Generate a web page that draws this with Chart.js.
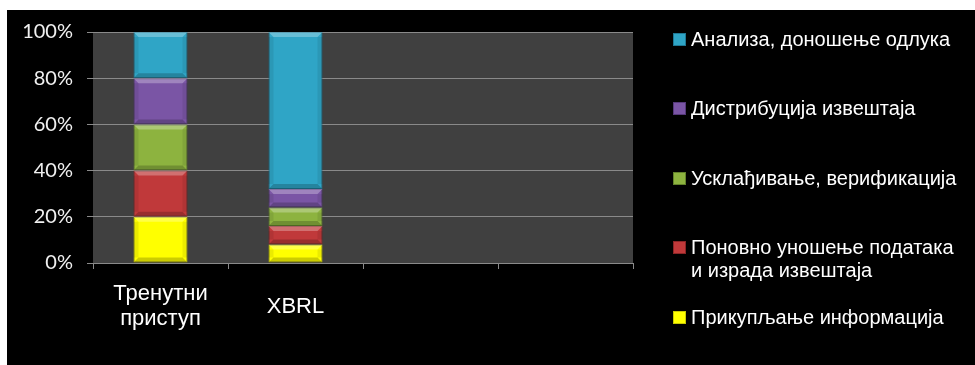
<!DOCTYPE html>
<html>
<head>
<meta charset="utf-8">
<script src="https://cdn.jsdelivr.net/npm/chart.js@4"></script>
<style>
  body { margin: 0; background: #fff; }
  #frame { position: absolute; left: 7px; top: 10px; width: 968px; height: 355px; background: #000; }
  #chartBox { position: absolute; left: 0; top: 0; width: 968px; height: 355px; }
  #legend { position: absolute; left: 0; top: 0; font-family: "Liberation Sans", Arial, sans-serif; font-size: 20px; color: #fff; }
  .item { position: absolute; left: 666px; white-space: pre-line; line-height: 23px; padding-left: 18px; width: 295px; }
  .item span.box { position: absolute; left: 0; top: 5px; width: 13px; height: 13px; }
</style>
</head>
<body>
<div id="frame">
  <div id="chartBox"><canvas id="chart"></canvas></div>
  <div id="legend"></div>
</div>
<script>
// Categories (x axis)
const categories = [["Тренутни", "приступ"], "XBRL", "", ""];

// Series, bottom of the stack first
const seriesNames = [
    "Прикупљање информација",
    "Поновно уношење података\nи израда извештаја",
    "Усклађивање, верификација",
    "Дистрибуција извештаја",
    "Анализа, доношење одлука"
];
const collecting = [20, 8, null, null];
const reentry = [20, 8, null, null];
const verification = [20, 8, null, null];
const distribution = [20, 8, null, null];
const analysis = [20, 68, null, null];
const seriesColors = ["#ffff00", "#c0393a", "#8db33f", "#7a55a5", "#2fa5c6"];
const borderColors = ["#c8c800", "#8a2526", "#62812a", "#55397a", "#1f7894"];

const yTicks = [0, 20, 40, 60, 80, 100];

// legend: top of each entry (inside frame)
const legendTops = [18, 87, 157, 226, 296];

const plotBg = {
    id: 'plotBg',
    beforeDraw(chart) {
        const a = chart.chartArea;
        const ctx = chart.ctx;
        ctx.save();
        ctx.fillStyle = '#404040';
        ctx.fillRect(a.left, a.top, a.right - a.left, a.bottom - a.top);
        ctx.restore();
    }
};

// soft bevel on each bar
const bevel = {
    id: 'bevel',
    afterDatasetsDraw(chart) {
        const ctx = chart.ctx;
        ctx.save();
        chart.data.datasets.forEach((ds, i) => {
            chart.getDatasetMeta(i).data.forEach(bar => {
                if (bar.skip || bar.y == null || isNaN(bar.y)) return;
                const l = bar.x - bar.width / 2, r = bar.x + bar.width / 2;
                const t = Math.min(bar.y, bar.base), b = Math.max(bar.y, bar.base);
                if (b - t < 2) return;
                const k = Math.min(5, (b - t) / 3);
                ctx.fillStyle = 'rgba(255,255,255,0.28)';
                ctx.beginPath();
                ctx.moveTo(l, t); ctx.lineTo(r, t); ctx.lineTo(r - k, t + k); ctx.lineTo(l + k, t + k);
                ctx.closePath(); ctx.fill();
                ctx.fillStyle = 'rgba(0,0,0,0.2)';
                ctx.beginPath();
                ctx.moveTo(l, b); ctx.lineTo(r, b); ctx.lineTo(r - k, b - k); ctx.lineTo(l + k, b - k);
                ctx.closePath(); ctx.fill();
                ctx.fillStyle = 'rgba(0,0,0,0.08)';
                ctx.fillRect(l, t + k, k, b - t - 2 * k);
                ctx.fillRect(r - k, t + k, k, b - t - 2 * k);
            });
        });
        ctx.restore();
    }
};

const values = [collecting, reentry, verification, distribution, analysis];

const chart = new Chart(document.getElementById('chart'), {
    type: 'bar',
    data: {
        labels: categories,
        datasets: seriesNames.map((name, i) => ({
            label: name,
            data: values[i],
            backgroundColor: seriesColors[i],
            borderColor: borderColors[i],
            borderWidth: 1,
            borderSkipped: false,
            barPercentage: 0.4,
            categoryPercentage: 1
        }))
    },
    options: {
        responsive: true,
        maintainAspectRatio: false,
        animation: false,
        layout: { padding: { top: 22, right: 342, bottom: 0, left: 0 } },
        plugins: { legend: { display: false }, tooltip: { enabled: false } },
        scales: {
            x: {
                stacked: true,
                grid: { display: true, drawOnChartArea: false, drawTicks: true, tickLength: 6, color: '#8a8a8a', offset: true },
                border: { display: true, color: '#8a8a8a' },
                ticks: {
                    color: '#ffffff',
                    font: { family: 'Liberation Sans', size: 22, lineHeight: 1.15 },
                    crossAlign: 'center',
                    padding: 25,
                    maxRotation: 0,
                    autoSkip: false
                },
                afterFit(scale) {
                    scale.height = 102;
                    scale.paddingTop = 0;
                    scale.paddingBottom = 0;
                }
            },
            y: {
                stacked: true,
                min: 0,
                max: 100,
                afterBuildTicks(scale) { scale.ticks = yTicks.map(v => ({ value: v })); },
                grid: { color: '#8a8a8a', tickLength: 6 },
                border: { display: false },
                ticks: {
                    color: '#f0f0f0',
                    font: { family: 'Lato', size: 20 },
                    padding: 14,
                    callback: v => v + '%'
                },
                afterFit(scale) {
                    scale.width = 86;
                    scale.paddingTop = 0;
                }
            }
        }
    },
    plugins: [plotBg, bevel]
});

// legend built from the datasets, top series first
const legend = document.getElementById('legend');
chart.data.datasets.slice().reverse().forEach((ds, i) => {
    const item = document.createElement('div');
    item.className = 'item';
    item.style.top = legendTops[i] + 'px';
    const box = document.createElement('span');
    box.className = 'box';
    box.style.background = ds.backgroundColor;
    box.style.border = '1px solid ' + ds.borderColor;
    box.style.boxSizing = 'border-box';
    item.appendChild(box);
    item.appendChild(document.createTextNode(ds.label));
    legend.appendChild(item);
});
</script>
</body>
</html>
